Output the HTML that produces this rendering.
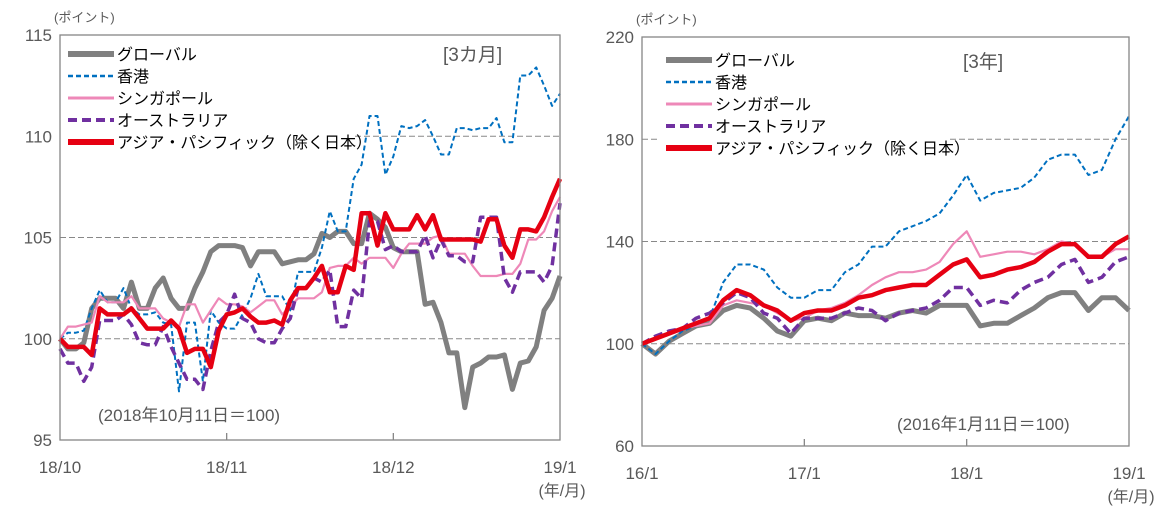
<!DOCTYPE html>
<html><head><meta charset="utf-8">
<style>
html,body{margin:0;padding:0;background:#fff;}
svg{display:block;font-family:"Liberation Sans","Noto Sans CJK JP",sans-serif;}
.tick{fill:#595959;font-size:17px;}
.leg{fill:#000;font-size:16px;}
.note{fill:#595959;font-size:15px;}
</style></head>
<body>
<svg id="chart" width="1168" height="507" viewBox="0 0 1168 507" xmlns="http://www.w3.org/2000/svg"></svg>
<script>
// ---- Left chart (3 months) data ----
const leftXTicks = ["18/10","18/11","18/12","19/1"];
const leftXTickIdx = [0, 21, 42, 63];
const leftYTicks = [95,100,105,110,115];
const leftGlobal = [100,99.5,99.5,99.8,101.5,102,102,102,101.5,102.8,101.5,101.5,102.5,103,102,101.5,101.5,102.5,103.3,104.3,104.6,104.6,104.6,104.5,103.6,104.3,104.3,104.3,103.7,103.8,103.9,103.9,104.2,105.2,105,105.3,105.3,104.7,104.7,106.2,105.9,105.5,104.5,104.3,104.3,104.3,101.7,101.8,100.8,99.3,99.3,96.6,98.6,98.8,99.1,99.1,99.2,97.5,98.8,98.9,99.6,101.4,102,103.1];
const leftHK = [100,100.3,100.3,100.4,101.5,102.4,101.8,101.8,102.5,101.5,101.2,101.2,101.3,100.8,100.7,97.4,100.8,100.8,97.9,101.4,100.8,100.5,100.5,101.2,102,103.2,102.1,102.1,102.1,101.4,103.3,103.3,103.3,104.5,106.3,105.3,105.3,107.9,108.6,111,111,108.1,109,110.5,110.4,110.5,110.8,110,109.1,109.1,110.4,110.4,110.3,110.4,110.4,110.9,109.7,109.7,113,113,113.4,112.5,111.5,112.1];
const leftSG = [100,100.6,100.6,100.7,100.8,102.1,101.8,101.8,101.8,102.1,101.5,101.5,101.5,101,100.8,100.6,101.7,101.7,100.8,101.4,102,101.7,101.7,101.6,101.3,101.6,101.9,101.9,101.2,101.6,102,102,102,102.3,103.5,103.6,103.6,104,103.7,104,104,104,103.5,104.2,104.7,104.7,104.7,105,105.1,104.2,104.2,104.2,103.6,103.1,103.1,103.1,103.2,103.2,103.7,104.9,104.9,105.3,106.3,107];
const leftAU = [99.5,98.8,98.8,97.9,98.6,100.9,100.9,100.9,101.2,100.7,99.8,99.7,99.7,100.6,99.6,98.8,98,98,97.5,99.4,100.8,101.2,102.2,101,100.8,100,99.8,99.8,100.5,101,102.5,102.5,103,102.8,103.4,100.6,100.6,102.4,102,105.8,105.8,104.4,104.6,104.3,104.3,104.3,105.1,104,104.9,104.1,104.1,103.8,103.8,106,106,106,103,102.3,103.3,103.3,103.3,102.8,103.6,106.7];
const leftAP = [100,99.6,99.6,99.6,99.2,101.5,101.2,101.2,101.2,101.5,101,100.5,100.5,100.5,100.9,100.5,99.3,99.5,99.5,98.6,100.4,101.2,101.3,101.5,101.1,100.8,100.8,100.9,100.7,101.9,102.5,102.5,103,103.6,102.3,102.3,103.6,103.4,106.2,106.2,104.6,106.2,105.4,105.4,105.4,106.1,105.4,106.1,104.9,104.9,104.9,104.9,104.9,104.8,105.9,105.9,104.6,104,105.4,105.4,105.3,106,107,107.9];

// ---- Right chart (3 years) data ----
const rightXTicks = ["16/1","17/1","18/1","19/1"];
const rightXTickIdx = [0, 12, 24, 36];
const rightYTicks = [60,100,140,180,220];
const rightGlobal = [100,96,101,104,107,108,113,115,114,110,105,103,109,110,109,112,111,111,110,112,113,112,115,115,115,107,108,108,111,114,118,120,120,113,118,118,113];
const rightHK = [100,96,101,105,107,110,124,131,131,129,122,118,118,121,121,128,131,138,138,144,146,148,151,158,166,156,159,160,161,165,172,174,174,166,168,180,189];
const rightSG = [100,102,104,106,107,108,115,117,116,115,112,109,110,113,114,116,119,123,126,128,128,129,132,139,144,134,135,136,136,135,137,140,139,134,134,137,137];
const rightAU = [100,103,105,106,110,112,116,120,118,112,110,104,110,110,110,112,114,113,109,112,113,114,117,122,122,115,117,116,121,124,126,131,133,124,126,132,134];
const rightAP = [100,102,104,106,108,110,117,121,119,115,113,109,112,113,113,115,118,119,121,122,123,123,127,131,133,126,127,129,130,132,136,139,139,134,134,139,142];

const NS="http://www.w3.org/2000/svg";
const svg=document.getElementById('chart');
function mk(tag,attrs,parent){const e=document.createElementNS(NS,tag);for(const k in attrs)e.setAttribute(k,attrs[k]);(parent||svg).appendChild(e);return e;}

const series=[
 {key:'global',label:'グローバル',color:'#808080',w:5,dash:null,lw:6},
 {key:'hk',label:'香港',color:'#0070c0',w:2,dash:'5,3',lw:2.5},
 {key:'sg',label:'シンガポール',color:'#ee88b8',w:2.2,dash:null,lw:3},
 {key:'au',label:'オーストラリア',color:'#7030a0',w:3.5,dash:'9,5',lw:4},
 {key:'ap',label:'アジア・パシフィック（除く日本）',color:'#e60012',w:4.5,dash:null,lw:6}
];

function drawChart(cfg){
  const g=mk('g',{});
  
  
  const {x0,x1,y0,y1,ymin,ymax,n}=cfg;
  const xs=i=>x0+(x1-x0)*i/(n-1);
  const ys=v=>y1-(v-ymin)/(ymax-ymin)*(y1-y0);
  cfg.yTicks.forEach(v=>{
    if(v===ymin||v===ymax)return;
    const gl=cfg.gridGap&&cfg.gridGap.v===v;
    const segs=gl?[[x0,cfg.gridGap.a],[cfg.gridGap.b,x1]]:[[x0,x1]];
    segs.forEach(s=>{
      const l=mk('line',{x1:s[0],x2:s[1],y1:ys(v),y2:ys(v),stroke:'#888',"stroke-width":1,"stroke-dasharray":'6,3'},g);
      
      
    });
  });
  cfg.data.forEach((d,si)=>{
    const s=series[si];
    const pts=d.map((v,i)=>xs(i).toFixed(1)+','+ys(v).toFixed(1)).join(' ');
    const a={points:pts,fill:'none',stroke:s.color,"stroke-width":s.w,"stroke-linejoin":'round'};
    if(s.dash)a["stroke-dasharray"]=s.dash;
    const p=mk('polyline',a,g);
    
    
  });
  const fr=mk('rect',{x:x0,y:y0,width:x1-x0,height:y1-y0,fill:'none',stroke:'#868686',"stroke-width":1.3},g);
  
  
  cfg.yTicks.forEach(v=>{
    const t=mk('text',{x:x0-8,y:ys(v)+6,"text-anchor":'end',class:'tick'},g);
    t.textContent=v;
    
    
  });
  cfg.xTicks.forEach((lab,k)=>{
    const xi=xs(cfg.xTickIdx[k]);
    if(k>0&&k<cfg.xTicks.length-1){
      const tl=mk('line',{x1:xi,x2:xi,y1:y1-7,y2:y1,stroke:'#868686',"stroke-width":1.3},g);
      
      
    }
    const t=mk('text',{x:xi,y:y1+33,"text-anchor":'middle',class:'tick'},g);
    t.textContent=lab;
    
    
  });
  const yu=mk('text',{x:x1+2,y:y1+56,"text-anchor":'middle',class:'note',style:'font-size:16px'},g);
  yu.textContent='(年/月)';
  
  
  const pu=mk('text',{x:x0-6,y:y0-13,class:'note',style:'font-size:13px'},g);
  pu.textContent='(ポイント)';
  
  
  series.forEach((s,si)=>{
    const ly=cfg.legY+si*cfg.legStep;
    const a={x1:cfg.legX,x2:cfg.legX+46,y1:ly,y2:ly,stroke:s.color,"stroke-width":s.lw};
    if(s.dash)a["stroke-dasharray"]=s.dash;
    const l=mk('line',a,g);
    
    
    const t=mk('text',{x:cfg.legX+49,y:ly+6,class:'leg'},g);
    t.textContent=s.label;
    
    
  });
  const pl=mk('text',{x:cfg.periodX,y:cfg.periodY,class:'note',style:'font-size:19px'},g);
  pl.textContent=cfg.period;
  
  
  const bl=mk('text',{x:cfg.baseX,y:cfg.baseY,class:'note',style:'font-size:17px'},g);
  bl.textContent=cfg.base;
  
  
}

drawChart({name:'chart-3-months',x0:60,x1:560,y0:35,y1:440,ymin:95,ymax:115,n:leftGlobal.length,
  yTicks:leftYTicks,xTicks:leftXTicks,xTickIdx:leftXTickIdx,
  data:[leftGlobal,leftHK,leftSG,leftAU,leftAP],
  gridGap:{v:110,a:60,b:355},
  legX:68,legY:54,legStep:22,period:'[3カ月]',periodX:443,periodY:61,
  base:'(2018年10月11日＝100)',baseX:98,baseY:421});

drawChart({name:'chart-3-years',x0:642,x1:1129,y0:37,y1:446,ymin:60,ymax:220,n:rightGlobal.length,
  yTicks:rightYTicks,xTicks:rightXTicks,xTickIdx:rightXTickIdx,
  data:[rightGlobal,rightHK,rightSG,rightAU,rightAP],
  gridGap:{v:180,a:660,b:950},
  legX:666,legY:60,legStep:22,period:'[3年]',periodX:963,periodY:68,
  base:'(2016年1月11日＝100)',baseX:897,baseY:430});
</script>
</body></html>
